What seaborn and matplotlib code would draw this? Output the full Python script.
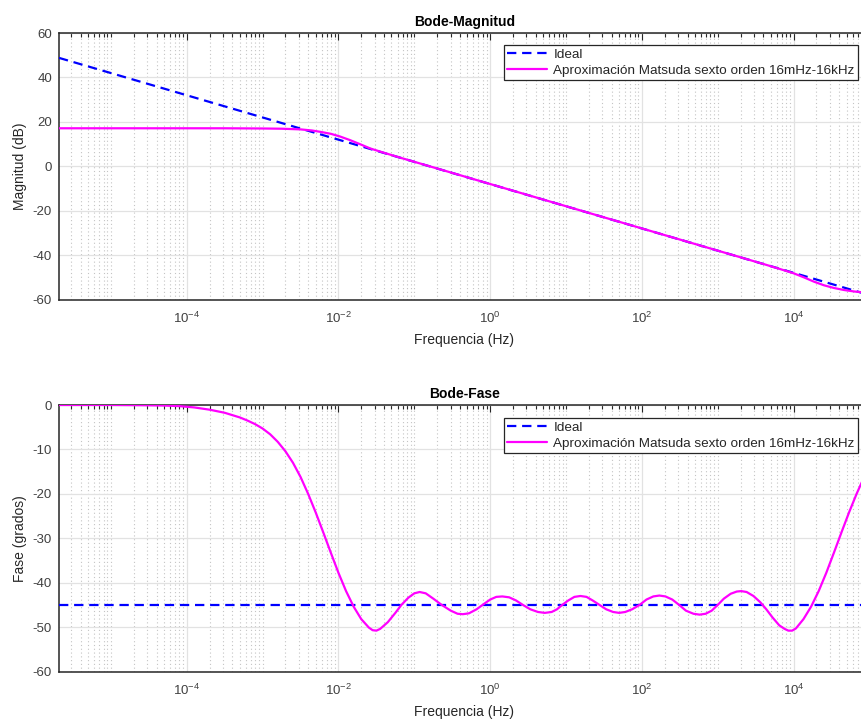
import numpy as np
import pandas as pd
import matplotlib
matplotlib.use("Agg")
import matplotlib.pyplot as plt
from matplotlib.ticker import FixedLocator, FixedFormatter, LogLocator, NullFormatter
import seaborn as sns

# ---------------- data ----------------
# ideal fractional integrator: straight lines
ideal_mag_f = [2.07e-6, 1e5]
ideal_mag_db = [48.8, -58.0]
ideal_ph_f = [2.07e-6, 1e5]
ideal_ph_deg = [-45.0, -45.0]

# Matsuda 6th order approximation, magnitude (log10 Hz, dB)
mat_mag_logf = [-5.684, -4.5, -3.5, -3.0, -2.75, -2.5, -2.35, -2.24, -2.1, -1.98,
                -1.85, -1.72, -1.58, -1.45, -1.2, -0.93, -0.66, -0.4, 0.0, 0.5,
                1.0, 1.5, 2.0, 2.5, 3.0, 3.35, 3.62, 3.87, 4.0, 4.14,
                4.27, 4.40, 4.53, 4.66, 4.80, 4.92, 5.0]
mat_mag_db = [17.1, 17.1, 17.1, 17.0, 16.9, 16.6, 16.1, 15.5, 14.6, 13.4,
              11.8, 10.0, 8.0, 6.6, 4.0, 1.3, -1.4, -4.0, -8.0, -13.0,
              -18.0, -23.0, -28.0, -33.0, -38.0, -41.5, -44.2, -46.8, -48.2, -50.1,
              -52.0, -53.6, -54.8, -55.7, -56.4, -56.8, -57.0]

# Matsuda 6th order approximation, phase (log10 Hz, degrees)
mat_ph_logf = [-5.684, -5.0, -4.6, -4.3, -4.1, -3.9, -3.7, -3.5, -3.3, -3.2,
               -3.1, -3.0, -2.9, -2.8, -2.7, -2.6, -2.5, -2.4, -2.3, -2.2,
               -2.1, -2.0, -1.9, -1.8, -1.7, -1.6, -1.55, -1.5, -1.45, -1.35,
               -1.25, -1.17, -1.08, -1.0, -0.93, -0.85, -0.75, -0.64, -0.52, -0.43,
               -0.36, -0.28, -0.18, -0.10, 0.0, 0.08, 0.16, 0.25, 0.34, 0.43,
               0.53, 0.63, 0.72, 0.81, 0.88, 0.95, 1.03, 1.11, 1.19, 1.27,
               1.35, 1.44, 1.53, 1.62, 1.70, 1.78, 1.87, 1.97, 2.06, 2.15,
               2.23, 2.31, 2.40, 2.49, 2.58, 2.68, 2.76, 2.84, 2.92, 3.0,
               3.08, 3.17, 3.25, 3.31, 3.38, 3.47, 3.56, 3.64, 3.72, 3.81,
               3.88, 3.93, 3.98, 4.03, 4.13, 4.23, 4.33, 4.43, 4.53, 4.63,
               4.73, 4.83, 4.93, 5.0]
mat_ph_deg = [0.0, 0.0, -0.05, -0.12, -0.25, -0.55, -1.05, -1.75, -2.8, -3.5,
              -4.3, -5.3, -6.6, -8.3, -10.4, -13.0, -16.2, -20.0, -24.2, -28.7,
              -33.3, -37.8, -41.9, -45.4, -48.2, -50.1, -50.7, -50.8, -50.4, -48.9,
              -46.8, -45.0, -43.4, -42.4, -42.1, -42.4, -43.6, -45.0, -46.3, -47.0,
              -47.1, -46.9, -46.0, -45.0, -43.8, -43.2, -43.1, -43.3, -44.0, -45.0,
              -46.0, -46.6, -46.8, -46.6, -46.0, -45.0, -44.0, -43.2, -43.0, -43.2,
              -44.0, -45.0, -46.0, -46.6, -46.8, -46.6, -46.0, -45.0, -43.8, -43.1,
              -42.9, -43.1, -43.8, -45.0, -46.3, -47.0, -47.2, -47.0, -46.3, -45.0,
              -43.6, -42.5, -42.0, -41.9, -42.1, -43.0, -44.4, -46.0, -47.8, -49.6,
              -50.4, -50.8, -50.8, -50.3, -48.2, -45.4, -41.9, -37.8, -33.3, -28.7,
              -24.2, -20.0, -16.2, -14.0]

xtick_vals = [1e-4, 1e-2, 1e0, 1e2, 1e4]
xtick_labels = ["$10^{-4}$", "$10^{-2}$", "$10^{0}$", "$10^{2}$", "$10^{4}$"]
mag_yticks = [-60, -40, -20, 0, 20, 40, 60]
ph_yticks = [-60, -50, -40, -30, -20, -10, 0]

legend_labels = ["Ideal", "Aproximación Matsuda sexto orden 16mHz-16kHz"]

# ---------------- style ----------------
sns.set_theme(style="white")
plt.rcParams["font.family"] = ["Liberation Sans", "DejaVu Sans"]
plt.rcParams["axes.unicode_minus"] = False
plt.rcParams["mathtext.fontset"] = "custom"
plt.rcParams["mathtext.rm"] = "Liberation Sans"
plt.rcParams["mathtext.it"] = "Liberation Sans:italic"
plt.rcParams["mathtext.bf"] = "Liberation Sans:bold"

BLUE = "#0000ff"
MAG = "#ff00ff"
AXC = "#262626"
TXT = "#404040"

fig = plt.figure(figsize=(8.61, 7.2), dpi=100)
W, H = 861.0, 720.0
ax1 = fig.add_axes([59 / W, 1 - 299.5 / H, 810.5 / W, 266.5 / H])
ax2 = fig.add_axes([59 / W, 1 - 671.5 / H, 810.5 / W, 266.5 / H])

df_mag = pd.DataFrame({"f": 10.0 ** np.array(mat_mag_logf), "v": mat_mag_db})
df_ph = pd.DataFrame({"f": 10.0 ** np.array(mat_ph_logf), "v": mat_ph_deg})


def draw(ax, ideal_f, ideal_v, df, yticks, title, ylabel, legend_top_px):
    sns.lineplot(x=ideal_f, y=ideal_v, ax=ax, color=BLUE, linewidth=1.6,
                 linestyle="--", label=legend_labels[0], zorder=3)
    ax.lines[-1].set_dashes((4.2, 2.6))
    sns.lineplot(data=df, x="f", y="v", ax=ax, color=MAG, linewidth=1.6,
                 label=legend_labels[1], sort=False, estimator=None, zorder=4)
    ax.set_xscale("log")
    ax.set_xlim(2.07e-6, 1e5)
    ax.set_ylim(min(yticks), max(yticks))
    ax.set_yticks(yticks)
    ax.set_yticklabels([str(t) for t in yticks])
    ax.xaxis.set_major_locator(FixedLocator(xtick_vals))
    ax.xaxis.set_major_formatter(FixedFormatter(xtick_labels))
    ax.xaxis.set_minor_locator(LogLocator(base=10, subs=np.arange(1, 10), numticks=200))
    ax.xaxis.set_minor_formatter(NullFormatter())
    ax.set_axisbelow(True)
    ax.grid(True, which="major", color="#e2e2e2", linewidth=0.9, linestyle="-")
    ax.grid(True, which="minor", axis="x", color="#c4c4c4", linewidth=0.8,
            linestyle=(0, (1, 2.4)))
    ax.tick_params(which="both", direction="in", top=True, right=True,
                   color=AXC, labelcolor=TXT, labelsize=9.5, width=0.8)
    ax.tick_params(which="major", length=5, pad=5)
    ax.tick_params(axis="x", which="major", pad=8)
    ax.tick_params(which="minor", length=3)
    for s in ax.spines.values():
        s.set_visible(True)
        s.set_color(AXC)
        s.set_linewidth(1.1)
    ax.set_title(title, fontsize=10, fontweight="bold", color="#000000", pad=5)
    ax.set_xlabel("Frequencia (Hz)", fontsize=10, color=AXC, labelpad=5)
    ax.set_ylabel(ylabel, fontsize=10, color=AXC, labelpad=4)
    leg = ax.legend(loc="upper right", bbox_to_anchor=(858 / W, 1 - legend_top_px / H),
                    bbox_transform=fig.transFigure, fontsize=9.7, frameon=True,
                    fancybox=False, edgecolor=AXC, framealpha=1.0,
                    handlelength=3.0, handletextpad=0.45, borderpad=0.25,
                    labelspacing=0.28, borderaxespad=0.0)
    leg.get_frame().set_linewidth(0.9)
    for t in leg.get_texts():
        t.set_color(AXC)


draw(ax1, ideal_mag_f, ideal_mag_db, df_mag, mag_yticks, "Bode-Magnitud",
     "Magnitud (dB)", 45)
draw(ax2, ideal_ph_f, ideal_ph_deg, df_ph, ph_yticks, "Bode-Fase",
     "Fase (grados)", 418)

fig.savefig("out.png", dpi=100)
